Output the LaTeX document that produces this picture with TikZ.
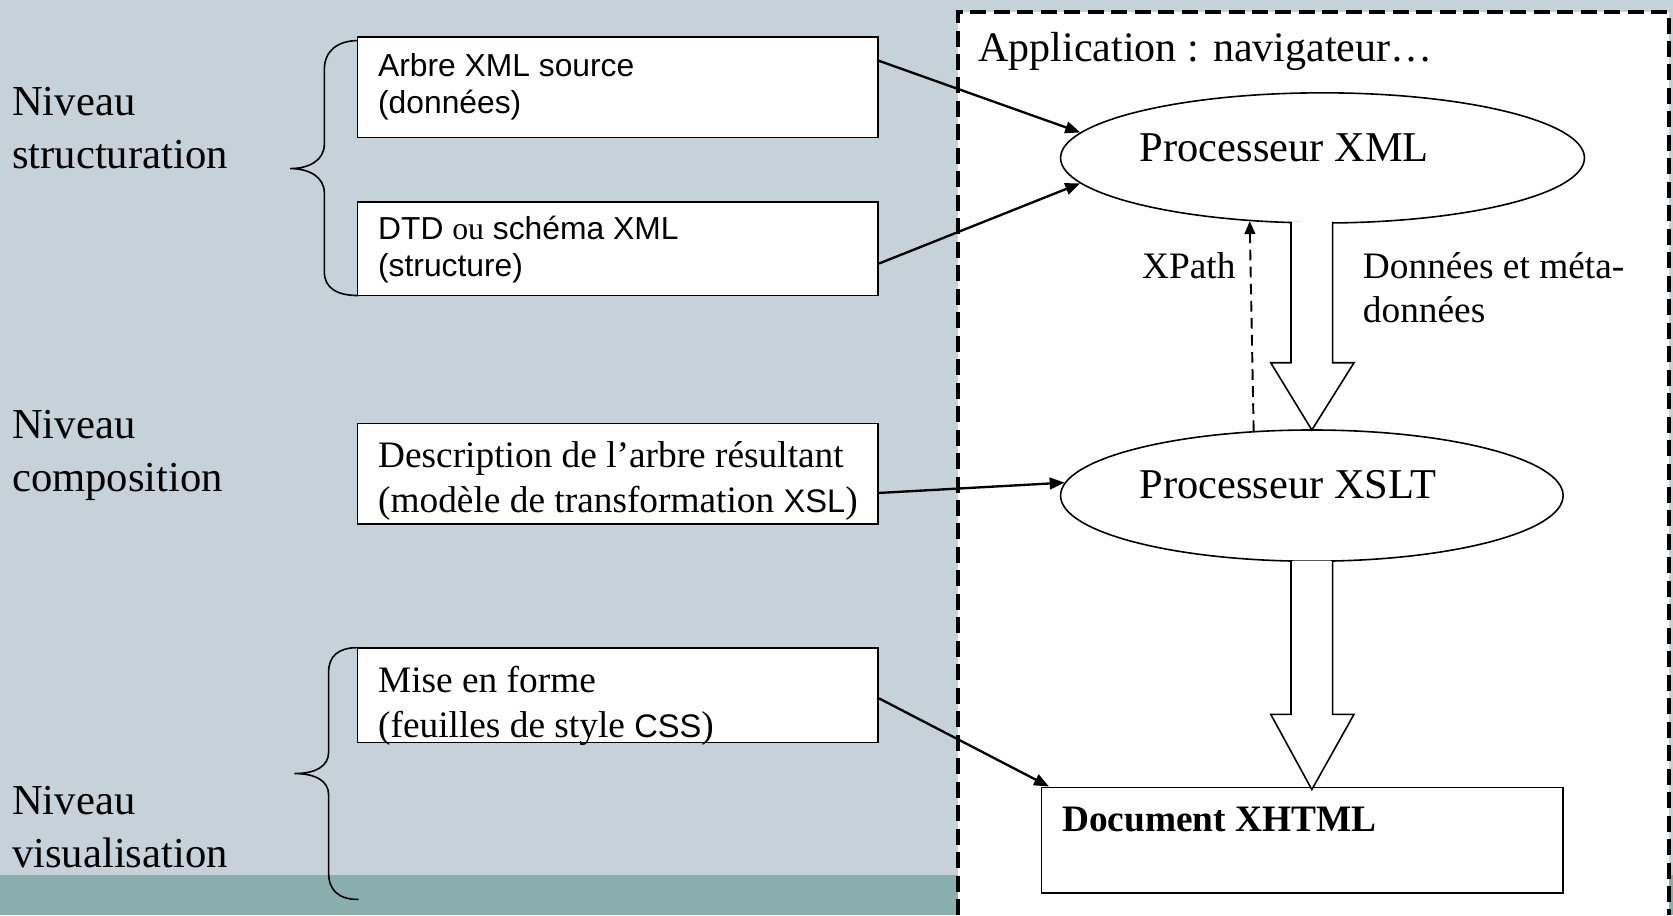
\documentclass[tikz,border=0pt]{standalone}
\usepackage{fontspec}
\setmainfont{Liberation Serif}
\newfontfamily\arialf{Liberation Sans}
\newcommand{\arialin}[1]{{\arialf\fontsize{15.3}{21}\selectfont #1}}
\usetikzlibrary{arrows.meta,shapes.geometric}
\definecolor{bggray}{HTML}{C6D2D9}
\definecolor{bandteal}{HTML}{8AADAE}
\begin{document}
\begin{tikzpicture}[x=0.5pt,y=-0.5pt,
  box/.style={draw=black,line width=0.8pt,fill=white,rectangle,inner sep=0pt},
  ell/.style={draw=black,line width=0.75pt,fill=white,ellipse,inner sep=0pt},
  lbl/.style={anchor=base west,inner sep=0pt,align=left},
  niv/.style={lbl,font=\fontsize{20}{25}\selectfont},
  sanstxt/.style={lbl,font=\arialf\fontsize{14.9}{17.2}\selectfont},
  sertxt/.style={lbl,font=\fontsize{17.5}{21}\selectfont},
  proc/.style={lbl,font=\fontsize{19.9}{23}\selectfont},
  conn/.style={line width=1.1pt,-{Triangle[length=7pt,width=5.5pt]}},
  xpathline/.style={line width=0.9pt,dash pattern=on 5pt off 3pt,-{Triangle[length=6pt,width=5pt]}},
  fatarrow/.style={draw=black,line width=0.75pt,fill=white,line join=miter},
  bracepath/.style={draw=black,line width=0.75pt},
  appborder/.style={line width=1.9pt,dash pattern=on 7.5pt off 3.5pt}
]
% background
\useasboundingbox (0,0) rectangle (1568,857.6);
\fill[bggray] (0,0) rectangle (1568,857.6);
\fill[bandteal] (0,820) rectangle (1568,857.6);
\fill[white] (898,11) rectangle (1564,857.6);
\draw[appborder] (898,857.6) -- (898,11) -- (1564,11) -- (1564,857.6);

% left-hand labels (anchor = baseline of last line)
\node[niv] (lvl1) at (11,158) {Niveau\\structuration};
\node[niv] (lvl2) at (11,461) {Niveau\\composition};
\node[niv] (lvl3) at (11,813) {Niveau\\visualisation};

% braces
\draw[bracepath] (336,38) .. controls (316,38) and (304,48) .. (304,65) -- (304,135)
  .. controls (304,150) and (290,158) .. (272,158)
  .. controls (290,158) and (304,166) .. (304,181) -- (304,255)
  .. controls (304,270) and (316,277) .. (336,277);
\draw[bracepath] (335,607) .. controls (317,607) and (308,615) .. (308,630) -- (308,705)
  .. controls (308,718) and (296,725) .. (276,725)
  .. controls (296,725) and (308,732) .. (308,745) -- (308,818)
  .. controls (308,835) and (318,843) .. (336,843);

% boxes
\node[box,minimum width=244pt,minimum height=47pt] (b1) at (579,82) {};
\node[box,minimum width=244pt,minimum height=44pt] (b2) at (579,233) {};
\node[box,minimum width=244pt,minimum height=47pt] (b3) at (579,444) {};
\node[box,minimum width=244pt,minimum height=44.5pt] (b4) at (579,651.5) {};
\node[box,minimum width=244.5pt,minimum height=49.5pt] (doc) at (1220.5,787.5) {};

\node[sanstxt] (t1) at (354,106.2) {Arbre XML source\\(données)};
\node[sanstxt] (t2) at (354,259.3) {DTD {\rmfamily\fontsize{14.9}{17.2}\selectfont ou} schéma XML\\(structure)};
\node[sertxt] (t3) at (354,480) {Description de l’arbre résultant\\(modèle de transformation \arialin{XSL})};
\node[sertxt] (t4) at (354,691) {Mise en forme\\(feuilles de style \arialin{CSS})};
\node[sertxt,font=\bfseries\fontsize{17.5}{21}\selectfont] (doct) at (995,779) {Document XHTML};

% application
\node[lbl,font=\fontsize{19.7}{22}\selectfont] (app) at (916.6,58) {Application : navigateur…};

% ellipses
\node[ell,minimum width=245.5pt,minimum height=61pt] (pxml) at (1239.5,148) {};
\node[ell,minimum width=235.5pt,minimum height=61.5pt] (pxslt) at (1229.5,464.5) {};
\node[proc] (pxmlt) at (1068,151.5) {Processeur XML};
\node[proc] (pxsltt) at (1067.5,467) {Processeur XSLT};

% fat arrows
\draw[fatarrow] (1210,208) -- (1210,340) -- (1191,340) -- (1229.5,403) -- (1269,340) -- (1249,340) -- (1249,208);
\draw[fatarrow] (1210,526) -- (1210,669.5) -- (1191,669.5) -- (1229.5,740) -- (1269,669.5) -- (1249,669.5) -- (1249,526);

% xpath
\draw[xpathline] (pxslt.132.9) -- (pxml.221.9);
\node[lbl,font=\fontsize{17.5}{20.4}\selectfont] (xpath) at (1070,260.6) {XPath};
\node[lbl,font=\fontsize{17.5}{20.4}\selectfont] (donnees) at (1277,302) {Données et méta-\\données};

% connectors
\draw[conn] ([yshift=12.5pt]b1.east) -- (pxml.174.6);
\draw[conn] ([yshift=-7pt]b2.east) -- (pxml.186);
\draw[conn] ([yshift=-9pt]b3.east) -- (pxslt.177.2);
\draw[conn] ([yshift=-1.5pt]b4.east) -- ([xshift=4pt]doc.north west);
\end{tikzpicture}
\end{document}
